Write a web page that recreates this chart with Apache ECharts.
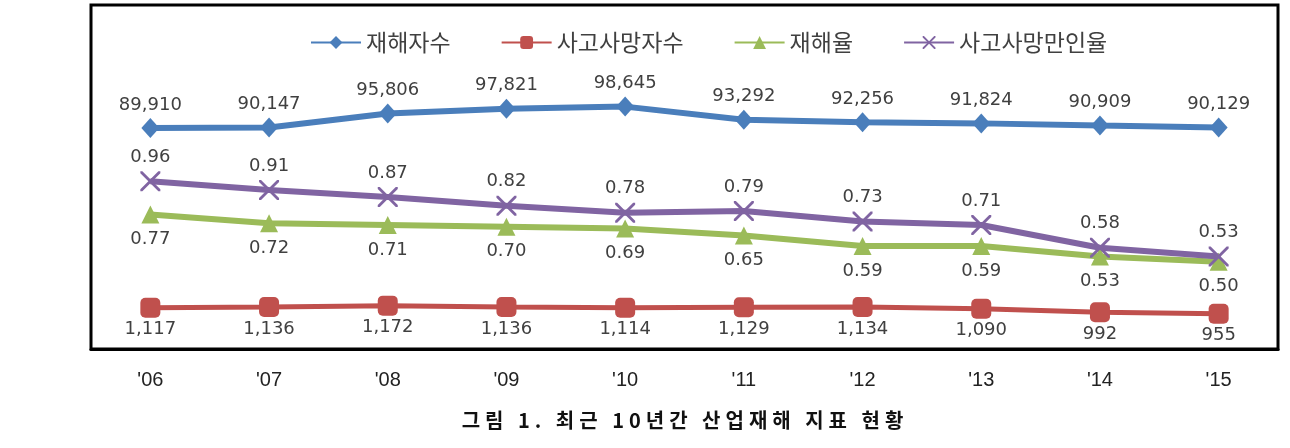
<!DOCTYPE html>
<html>
<head>
<meta charset="utf-8">
<script src="https://cdn.jsdelivr.net/npm/echarts@6/dist/echarts.min.js"></script>
<style>
  html, body { margin: 0; padding: 0; background: #fff; }
  #wrap { position: relative; width: 1290px; height: 448px; }
  #chart { width: 1290px; height: 448px; }
  /* 그림 캡션: 글자 간격이 넓어서 HTML 로 처리 */
  #caption {
    position: absolute; left: 0; width: 1290px; top: 405px;
    text-align: center; padding-left: 80px; box-sizing: border-box;
    font-family: "Noto Sans CJK KR", sans-serif; font-size: 20px;
    font-weight: 600; letter-spacing: 5px; color: #111;
  }
</style>
</head>
<body>
<div id="wrap">
  <div id="chart"></div>
  <div id="caption">그림 1. 최근 10년간 산업재해 지표 현황</div>
</div>
<script>
// 연도
const years = ["'06", "'07", "'08", "'09", "'10", "'11", "'12", "'13", "'14", "'15"]
// 재해자수 (명)
const injured = [89910, 90147, 95806, 97821, 98645, 93292, 92256, 91824, 90909, 90129]
// 사고사망자수 (명)
const deaths = [1117, 1136, 1172, 1136, 1114, 1129, 1134, 1090, 992, 955]
// 재해율 (%)
const injuryRate = [0.77, 0.72, 0.71, 0.70, 0.69, 0.65, 0.59, 0.59, 0.53, 0.50]
// 사고사망만인율 (‱)
const deathRate = [0.96, 0.91, 0.87, 0.82, 0.78, 0.79, 0.73, 0.71, 0.58, 0.53]

const labelFont = 'DejaVu Sans'
const fmtInt = p => p.value.toLocaleString('en-US')
const fmtRate = p => p.value.toFixed(2)
// X 모양 마커
const xMark = 'path://M0,0 L2,0 L10,8 L18,0 L20,0 L20,2 L12,10 L20,18 L20,20 L18,20 L10,12 L2,20 L0,20 L0,18 L8,10 L0,2 Z'

const chart = echarts.init(document.getElementById('chart'))

chart.setOption({
  animation: false,
  legend: {
    top: 26,
    left: 305,
    itemWidth: 50,
    itemHeight: 16,
    itemGap: 50,
    textStyle: { fontFamily: 'Noto Sans CJK KR', fontSize: 23, color: '#404040' },
    data: ['재해자수', '사고사망자수', '재해율', '사고사망만인율']
  },
  grid: {
    left: 91,
    right: 12,
    top: 5,
    bottom: 99,
    show: true,
    borderColor: '#000',
    borderWidth: 3
  },
  xAxis: {
    type: 'category',
    data: years,
    boundaryGap: true,
    axisLine: { lineStyle: { color: '#000', width: 3 } },
    axisTick: { inside: true, length: 7, alignWithLabel: true, lineStyle: { color: '#000', width: 2 } },
    axisLabel: { margin: 21, fontSize: 20, color: '#222', fontFamily: 'Liberation Sans' },
    splitLine: { show: false }
  },
  yAxis: [
    { type: 'value', min: 0, max: 140000, show: false, splitLine: { show: false } },
    { type: 'value', min: 0, max: 9300, show: false, splitLine: { show: false } },
    { type: 'value', min: 0, max: 1.97, show: false, splitLine: { show: false } }
  ],
  series: [
    {
      name: '재해자수',
      type: 'line',
      yAxisIndex: 0,
      data: injured,
      color: '#4A7EBB',
      lineStyle: { width: 6 },
      symbol: 'diamond',
      symbolSize: [18, 20],
      label: { show: true, position: 'top', distance: 4, formatter: fmtInt, fontFamily: labelFont, fontSize: 18, color: '#404040' }
    },
    {
      name: '사고사망자수',
      type: 'line',
      yAxisIndex: 1,
      data: deaths,
      color: '#C0504D',
      lineStyle: { width: 5 },
      symbol: 'roundRect',
      symbolSize: 20,
      label: { show: true, position: 'bottom', distance: 3, formatter: fmtInt, fontFamily: labelFont, fontSize: 18, color: '#404040' }
    },
    {
      name: '재해율',
      type: 'line',
      yAxisIndex: 2,
      data: injuryRate,
      color: '#9BBB59',
      lineStyle: { width: 6 },
      symbol: 'triangle',
      symbolSize: 18,
      label: { show: true, position: 'bottom', distance: 7, formatter: fmtRate, fontFamily: labelFont, fontSize: 18, color: '#404040' }
    },
    {
      name: '사고사망만인율',
      type: 'line',
      yAxisIndex: 2,
      data: deathRate,
      color: '#8064A2',
      lineStyle: { width: 6 },
      symbol: xMark,
      symbolSize: 20,
      label: { show: true, position: 'top', distance: 5, formatter: fmtRate, fontFamily: labelFont, fontSize: 18, color: '#404040' }
    }
  ]
})
</script>
</body>
</html>
